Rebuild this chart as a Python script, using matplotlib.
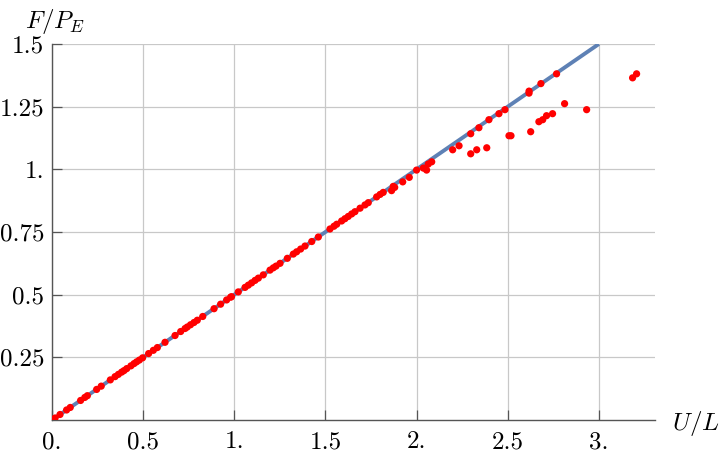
import numpy as np
import matplotlib
matplotlib.use("Agg")
import matplotlib.pyplot as plt

plt.rcParams['mathtext.fontset'] = 'cm'
plt.rcParams['font.family'] = 'cmr10'
plt.rcParams['axes.formatter.use_mathtext'] = True

# points: U/L and F/P_E
u_vals = [0.017, 0.044, 0.08, 0.10, 0.157, 0.18, 0.194, 0.245, 0.27, 0.32,
          0.346, 0.364, 0.382, 0.395, 0.41, 0.433, 0.45, 0.464, 0.479, 0.497,
          0.53, 0.556, 0.578, 0.62, 0.675, 0.706, 0.73, 0.742, 0.76, 0.779,
          0.797, 0.827, 0.889, 0.925, 0.958, 0.98,
          0.985, 1.022, 1.059, 1.077, 1.095, 1.114, 1.132, 1.159, 1.196, 1.214,
          1.229, 1.251, 1.291, 1.324, 1.342, 1.364, 1.388, 1.425, 1.461, 1.525,
          1.547, 1.562, 1.589, 1.607, 1.625, 1.644, 1.662, 1.69, 1.717, 1.735,
          1.781, 1.80, 1.817, 1.863, 1.872, 1.88, 1.924, 1.96, 2.0, 2.037,
          2.055, 2.064, 2.083,
          2.198, 2.233, 2.297, 2.33, 2.385, 2.297, 2.342, 2.397, 2.452, 2.485,
          2.507, 2.518, 2.617, 2.617, 2.626, 2.671, 2.692, 2.713, 2.746, 2.682,
          2.768, 2.812, 2.933, 3.185, 3.207]
f_vals = [0.008, 0.022, 0.040, 0.050, 0.078, 0.090, 0.097, 0.122, 0.135, 0.160,
          0.173, 0.182, 0.191, 0.197, 0.205, 0.216, 0.225, 0.232, 0.239, 0.248,
          0.265, 0.278, 0.289, 0.310, 0.337, 0.353, 0.365, 0.371, 0.380, 0.389,
          0.398, 0.413, 0.444, 0.462, 0.479, 0.490,
          0.492, 0.511, 0.529, 0.538, 0.547, 0.557, 0.566, 0.579, 0.598, 0.607,
          0.614, 0.625, 0.645, 0.662, 0.671, 0.682, 0.694, 0.712, 0.730, 0.762,
          0.773, 0.781, 0.794, 0.803, 0.812, 0.822, 0.831, 0.845, 0.858, 0.867,
          0.890, 0.900, 0.908, 0.915, 0.932, 0.928, 0.950, 0.968, 0.997, 1.005,
          0.997, 1.021, 1.030,
          1.078, 1.094, 1.062, 1.078, 1.086, 1.142, 1.166, 1.198, 1.222, 1.238,
          1.134, 1.134, 1.304, 1.312, 1.150, 1.190, 1.198, 1.214, 1.222, 1.342,
          1.381, 1.262, 1.238, 1.365, 1.381]

# reference line F/P_E = U/(2L)
line_u = [0.0, 3.0]
line_f = [0.0, 1.5]

xticks = [0, 0.5, 1, 1.5, 2, 2.5, 3]
xtick_labels = ['0.', '0.5', '1.', '1.5', '2.', '2.5', '3.']
yticks = [0.25, 0.5, 0.75, 1.0, 1.25, 1.5]
ytick_labels = ['0.25', '0.5', '0.75', '1.', '1.25', '1.5']

fig = plt.figure(figsize=(7.2, 4.62), dpi=100)
ax = fig.add_axes([52/720, 42/462, 603/720, 376/462])

ax.plot(line_u, line_f, color='#5e81b5', lw=2.8, solid_capstyle='butt', zorder=2)
ax.scatter(u_vals, f_vals, s=27, color='#ff0000', edgecolors='none', zorder=3)

ax.set_xlim(0, 3.308)
ax.set_ylim(0, 1.5)
ax.set_xticks(xticks)
ax.set_xticklabels(xtick_labels)
ax.set_yticks(yticks)
ax.set_yticklabels(ytick_labels)
ax.grid(True, color='#c8c8c8', lw=0.9)
ax.set_axisbelow(True)

for s in ['top', 'right']:
    ax.spines[s].set_visible(False)
for s in ['left', 'bottom']:
    ax.spines[s].set_color('#555555')
    ax.spines[s].set_linewidth(1.0)
ax.tick_params(direction='in', length=7, width=0.9, color='#555555',
               labelsize=18, pad=5.5)
ax.tick_params(axis='x', pad=8)

fig.text(25/720, 1 - 22/462, r'$F/P_E$', fontsize=18, va='center', ha='left')
fig.text(672/720, 1 - 423/462, r'$U/L$', fontsize=18, va='center', ha='left')

fig.savefig('out.png', dpi=100)
